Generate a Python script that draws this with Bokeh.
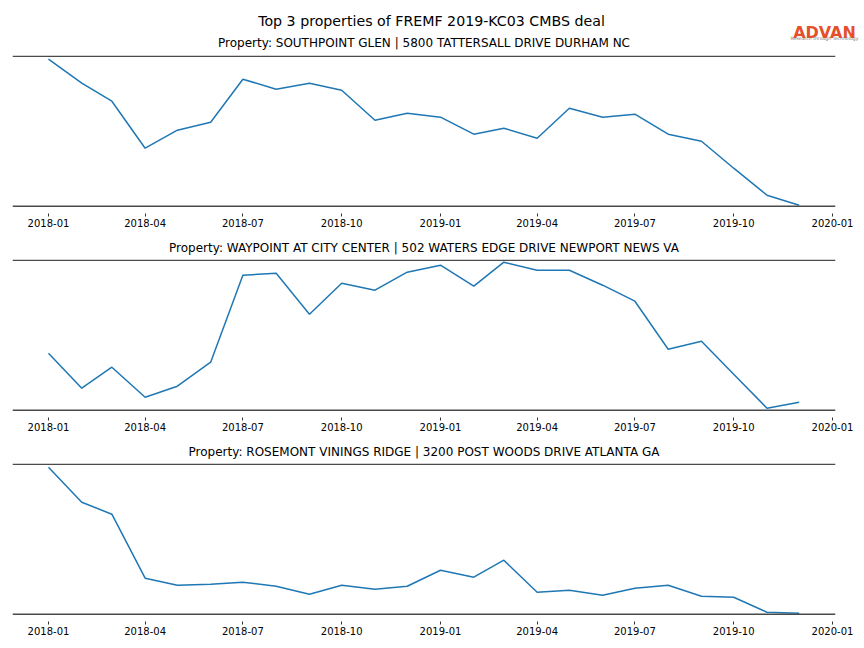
import pandas as pd
from bokeh.plotting import figure
from bokeh.models import (Range1d, Span, FixedTicker, DatetimeTickFormatter,
                          Label, ColumnDataSource)
from bokeh.layouts import column, row
from bokeh.embed import file_html
from bokeh.resources import INLINE

# ---------------- data ----------------
main_title = "Top 3 properties of FREMF 2019-KC03 CMBS deal"
months = ["2018-01", "2018-02", "2018-03", "2018-04", "2018-05", "2018-06",
          "2018-07", "2018-08", "2018-09", "2018-10", "2018-11", "2018-12",
          "2019-01", "2019-02", "2019-03", "2019-04", "2019-05", "2019-06",
          "2019-07", "2019-08", "2019-09", "2019-10", "2019-11", "2019-12"]
southpoint = [147, 123, 105, 58, 76, 84, 127, 117, 123, 116, 86, 93,
              89, 72, 78, 68, 98, 89, 92, 72, 65, 38, 11, 1]
waypoint = [57, 22, 43, 13, 24, 48, 135, 137, 96, 127, 120, 138,
            145, 124, 148, 140, 140, 125, 109, 61, 69, 36, 2, 8]
rosemont = [147, 112, 100, 36, 29, 30, 32, 28, 20, 29, 25, 28,
            44, 37, 54, 22, 24, 19, 26, 29, 18, 17, 2, 1]
titles = ["Property: SOUTHPOINT GLEN | 5800 TATTERSALL DRIVE DURHAM NC",
          "Property: WAYPOINT AT CITY CENTER | 502 WATERS EDGE DRIVE NEWPORT NEWS VA",
          "Property: ROSEMONT VININGS RIDGE | 3200 POST WOODS DRIVE ATLANTA GA"]
tick_labels = ["2018-01", "2018-04", "2018-07", "2018-10", "2019-01",
               "2019-04", "2019-07", "2019-10", "2020-01"]

# ---------------- style ----------------
FONT = "DejaVu Sans"
LINE_COLOR = "#1f77b4"
SPINE_COLOR = "#4a4a4a"
TITLE_SIZE = "12px"

dates = pd.to_datetime(months)
tick_ms = [int(pd.Timestamp(t).value // 10**6) for t in tick_labels]
x_start = (pd.Timestamp("2018-01-01") - pd.Timedelta(hours=804)).to_pydatetime()
x_end = (pd.Timestamp("2020-01-01") + pd.Timedelta(hours=67)).to_pydatetime()

# header with main title, first subtitle and logo
head = figure(frame_width=864, frame_height=50, x_range=Range1d(0, 864),
              y_range=Range1d(0, 50), output_backend="svg", toolbar_location=None,
              min_border=0, x_axis_location=None, y_axis_location=None,
              outline_line_color=None)
head.grid.visible = False
head.add_layout(Label(x=431, y=30, text=main_title, text_align="center",
                      text_baseline="middle", text_font=FONT, text_font_size="14.2px",
                      text_color="black"))
head.add_layout(Label(x=423.5, y=8, text=titles[0], text_align="center",
                      text_baseline="middle", text_font=FONT, text_font_size=TITLE_SIZE,
                      text_color="black"))
head.add_layout(Label(x=824, y=18.5, text="ADVAN", text_align="center",
                      text_baseline="alphabetic", text_font=FONT, text_font_size="16px",
                      text_font_style="bold", text_color="#e5502a"))
head.add_layout(Label(x=824, y=12, text="Research through Technology", text_align="center",
                      text_baseline="middle", text_font=FONT, text_font_size="4.6px",
                      text_color="#777777"))


def panel(values, title, top, bottom):
    p = figure(frame_width=823, frame_height=158, x_axis_type="datetime",
               x_range=Range1d(x_start, x_end), y_range=Range1d(-7.3, 150.7),
               output_backend="svg", toolbar_location=None,
               min_border_left=12, min_border_right=29,
               min_border_top=top, min_border_bottom=bottom,
               y_axis_location=None, outline_line_color=None,
               title=title)
    if title:
        p.title.text_font = FONT
        p.title.text_font_size = TITLE_SIZE
        p.title.text_font_style = "normal"
        p.title.text_color = "black"
        p.title.align = "center"
        p.title.standoff = 9
    p.grid.visible = False
    src = ColumnDataSource(dict(date=dates, value=values))
    p.line("date", "value", source=src, line_color=LINE_COLOR, line_width=1.5)
    for loc in (0, 150):
        p.add_layout(Span(location=loc, dimension="width", line_color=SPINE_COLOR,
                          line_width=1.5))
    ax = p.xaxis[0]
    ax.ticker = FixedTicker(ticks=tick_ms)
    ax.formatter = DatetimeTickFormatter(months="%Y-%m", days="%Y-%m", years="%Y-%m",
                                         hours="%Y-%m", context=None)
    ax.axis_line_color = None
    ax.major_tick_in = 0
    ax.major_tick_out = 3
    ax.major_tick_line_color = "black"
    ax.major_tick_line_width = 0.8
    ax.minor_tick_line_color = None
    ax.major_label_standoff = 2
    ax.major_label_text_font = FONT
    ax.major_label_text_font_size = "10px"
    ax.major_label_text_color = "black"
    return p


p1 = panel(southpoint, None, 5, 21)
p2 = panel(waypoint, titles[1], 20, 21)
p3 = panel(rosemont, titles[2], 20, 26)

layout = column(row(head), p1, p2, p3, spacing=0)
open("out.html", "w").write(file_html(layout, INLINE))
